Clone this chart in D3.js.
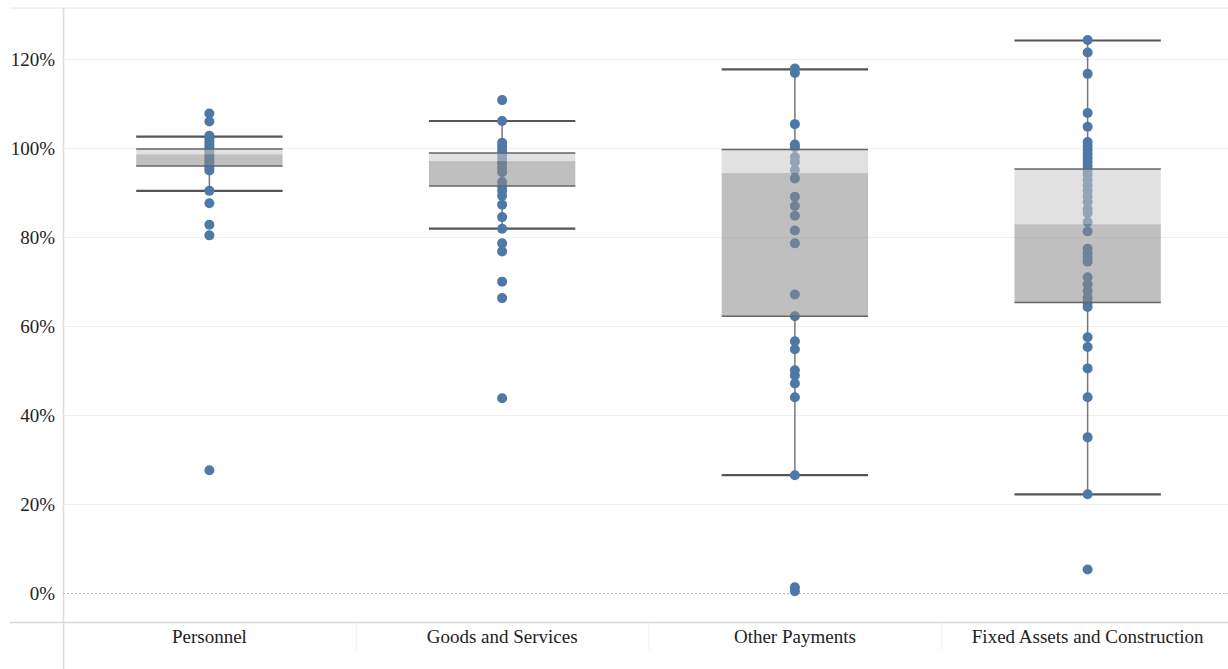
<!DOCTYPE html>
<html>
<head>
<meta charset="utf-8">
<script src="https://cdn.jsdelivr.net/npm/d3@7"></script>
<style>
  html, body { margin: 0; padding: 0; background: #fff; }
  svg { display: block; }
  text { font-family: "Liberation Serif", "DejaVu Serif", serif; fill: #222; }
</style>
</head>
<body>
<svg id="chart" width="1228" height="669"></svg>
<script>
// Budget execution rate by expenditure category (share of allocation spent)
const categories = ["Personnel", "Goods and Services", "Other Payments", "Fixed Assets and Construction"];

const personnel = [107.8, 106.0, 102.8, 102.2, 101.5, 100.8, 100.2, 99.5, 98.8, 98.0,
  97.4, 96.8, 96.2, 95.6, 95.0, 90.4, 87.6, 82.8, 80.4, 27.6];
const goodsServices = [110.8, 106.1, 101.2, 100.4, 99.5, 98.5, 97.6, 96.6, 95.6, 94.6,
  92.4, 91.4, 90.4, 89.3, 87.3, 84.5, 81.9, 78.6, 76.8, 70.0, 66.3, 43.8];
const otherPayments = [117.9, 116.9, 105.4, 100.8, 100.2, 98.0, 96.9, 95.1, 93.2, 89.1,
  87.0, 84.8, 81.5, 78.6, 67.1, 62.2, 56.6, 54.8, 50.1, 48.9, 47.1, 44.0, 26.5, 1.3, 0.4];
const fixedAssets = [124.3, 121.5, 116.7, 107.9, 104.8, 101.4, 100.5, 99.6, 98.7, 97.8,
  96.9, 96.0, 95.0, 94.0, 92.8, 91.6, 90.4, 89.2, 87.9, 86.3, 85.4, 83.4, 81.3, 77.4,
  76.4, 75.4, 74.5, 71.0, 69.4, 67.9, 66.4, 65.3, 64.3, 57.5, 55.3, 50.5, 44.0, 35.0, 22.2, 5.3];

// Box-plot summary per category (same order as categories)
const whiskerHigh = [102.6, 106.1, 117.7, 124.2];
const upperQuartile = [99.8, 98.9, 99.7, 95.3];
const median = [98.6, 97.1, 94.4, 82.9];
const lowerQuartile = [96.0, 91.5, 62.2, 65.3];
const whiskerLow = [90.4, 81.9, 26.5, 22.2];

const yTicks = [0, 20, 40, 60, 80, 100, 120];

const seriesValues = [personnel, goodsServices, otherPayments, fixedAssets];

const svg = d3.select("#chart");
const plotLeft = 63, plotRight = 1234, plotTop = 8, plotBottom = 622;

const x = d3.scaleBand().domain(categories).range([plotLeft, plotRight]).padding(0);
const y = d3.scaleLinear().domain([-6.5, 131.5]).range([plotBottom, plotTop]);
const boxW = x.bandwidth() * 0.5;

// Frame lines
svg.append("line").attr("x1", 10).attr("x2", 1228).attr("y1", plotTop).attr("y2", plotTop)
  .attr("stroke", "#e6e6e6").attr("stroke-width", 1);
svg.append("line").attr("x1", plotLeft + 0.5).attr("x2", plotLeft + 0.5).attr("y1", plotTop).attr("y2", 669)
  .attr("stroke", "#dcdcdc").attr("stroke-width", 1.5);

// Gridlines
svg.append("g").selectAll("line").data(yTicks.filter(d => d !== 0)).join("line")
  .attr("x1", plotLeft).attr("x2", 1228)
  .attr("y1", d => Math.round(y(d)) + 0.5).attr("y2", d => Math.round(y(d)) + 0.5)
  .attr("stroke", "#f0f0f0").attr("stroke-width", 1);

// Zero line
svg.append("line").attr("x1", plotLeft).attr("x2", 1228)
  .attr("y1", Math.round(y(0)) + 0.5).attr("y2", Math.round(y(0)) + 0.5)
  .attr("stroke", "#b8b8b8").attr("stroke-width", 1).attr("stroke-dasharray", "2,2");

// Y axis labels
const yAxis = d3.axisLeft(y).tickValues(yTicks).tickFormat(d => d + "%").tickSize(0).tickPadding(0);
const yg = svg.append("g").attr("transform", "translate(55,0)").call(yAxis);
yg.select(".domain").remove();
yg.selectAll("text").attr("font-size", 19).attr("font-family", "Liberation Serif, serif").attr("fill", "#222");

// Category axis
svg.append("line").attr("x1", 10).attr("x2", 1228).attr("y1", plotBottom + 0.5).attr("y2", plotBottom + 0.5)
  .attr("stroke", "#d8d8d8").attr("stroke-width", 1.5);
svg.append("g").selectAll("line").data(categories.slice(1)).join("line")
  .attr("x1", d => x(d) + 0.5).attr("x2", d => x(d) + 0.5)
  .attr("y1", plotBottom).attr("y2", plotBottom + 28)
  .attr("stroke", "#f0f0f0").attr("stroke-width", 1);
const xAxis = d3.axisBottom(x).tickSize(0).tickPadding(0);
const xg = svg.append("g").attr("transform", `translate(0,${plotBottom + 7})`).call(xAxis);
xg.select(".domain").remove();
xg.selectAll("text").attr("font-size", 19).attr("font-family", "Liberation Serif, serif").attr("fill", "#222");

const boxes = categories.map((c, i) => ({
  cat: c, cx: x(c) + x.bandwidth() / 2,
  hi: whiskerHigh[i], q3: upperQuartile[i], med: median[i], q1: lowerQuartile[i], lo: whiskerLow[i]
}));

// Whisker stems
const stems = svg.append("g");
boxes.forEach(b => {
  stems.append("line").attr("x1", b.cx).attr("x2", b.cx).attr("y1", y(b.hi)).attr("y2", y(b.q3))
    .attr("stroke", "#777").attr("stroke-width", 1.5);
  stems.append("line").attr("x1", b.cx).attr("x2", b.cx).attr("y1", y(b.q1)).attr("y2", y(b.lo))
    .attr("stroke", "#777").attr("stroke-width", 1.5);
});

// Whisker caps
svg.append("g").selectAll("line").data(boxes.flatMap(b => [{ cx: b.cx, v: b.hi }, { cx: b.cx, v: b.lo }]))
  .join("line")
  .attr("x1", d => d.cx - boxW / 2).attr("x2", d => d.cx + boxW / 2)
  .attr("y1", d => y(d.v)).attr("y2", d => y(d.v))
  .attr("stroke", "#555").attr("stroke-width", 2.2);

// Points
const points = seriesValues.flatMap((vals, i) => vals.map(v => ({ cat: categories[i], v })));
svg.append("g").selectAll("circle").data(points).join("circle")
  .attr("cx", d => x(d.cat) + x.bandwidth() / 2)
  .attr("cy", d => y(d.v))
  .attr("r", 5)
  .attr("fill", "#4e79a7");

// Box bands drawn over the points
const bandG = svg.append("g");
boxes.forEach(b => {
  bandG.append("rect").attr("x", b.cx - boxW / 2).attr("width", boxW)
    .attr("y", y(b.q3)).attr("height", y(b.med) - y(b.q3))
    .attr("fill", "#c8c8c8").attr("fill-opacity", 0.55);
  bandG.append("rect").attr("x", b.cx - boxW / 2).attr("width", boxW)
    .attr("y", y(b.med)).attr("height", y(b.q1) - y(b.med))
    .attr("fill", "#8a8a8a").attr("fill-opacity", 0.55);
  [b.q3, b.q1].forEach(v => {
    bandG.append("line").attr("x1", b.cx - boxW / 2).attr("x2", b.cx + boxW / 2)
      .attr("y1", y(v)).attr("y2", y(v))
      .attr("stroke", "#666").attr("stroke-width", 1.5);
  });
});
</script>
</body>
</html>
